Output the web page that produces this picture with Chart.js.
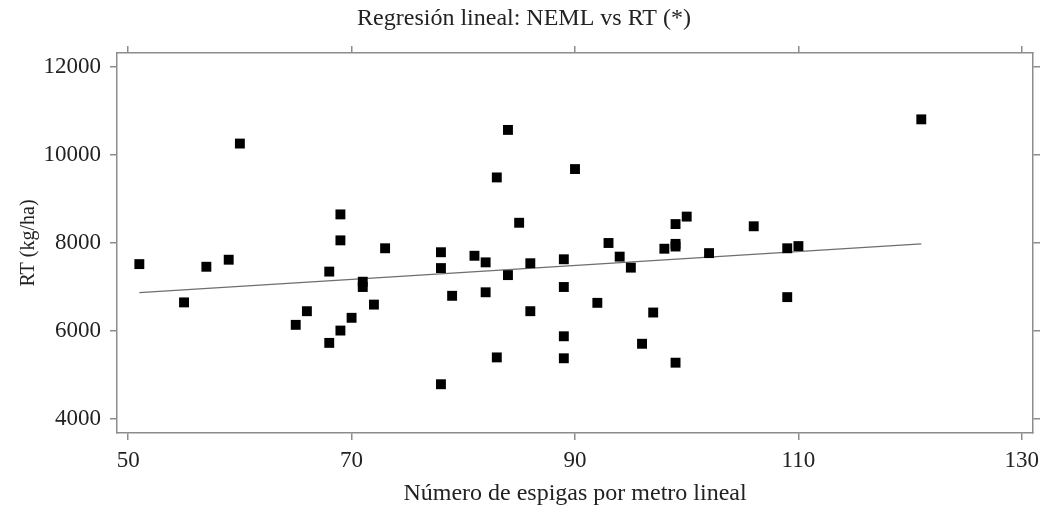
<!DOCTYPE html>
<html>
<head>
<meta charset="utf-8">
<script src="https://cdn.jsdelivr.net/npm/chart.js@4/dist/chart.umd.min.js"></script>
<style>
html,body{margin:0;padding:0;background:#fff;}
#wrap{width:1048px;height:515px;position:relative;}
</style>
</head>
<body>
<div id="wrap"><canvas id="c"></canvas></div>
<script>
// Data
const espigas = [51,55,57,59,60,65,66,68,68,69,69,69,70,71,71,72,73,78,78,78,79,81,82,82,83,83,84,84,85,86,86,89,89,89,89,90,92,93,94,95,96,97,98,99,99,99,99,100,102,106,109,109,110,121];
const rendimiento = [7520,6650,7460,7620,10260,6140,6450,7350,5730,8650,8060,6010,6300,7120,7000,6600,7880,7790,7430,4790,6800,7710,7560,6880,9490,5400,10570,7270,8460,7540,6450,7630,7000,5880,5380,9680,6640,8000,7690,7440,5710,6420,7870,8430,7980,7920,5280,8600,7770,8380,7880,6770,7930,10810];
const lineaX = [51,121];
const lineaY = [6870,7980];
const xTicks = [50,70,90,110,130];
const yTicks = [4000,6000,8000,10000,12000];

const FONT = "'Liberation Serif', 'Times New Roman', serif";
const FRAME = '#8c8c8c';
const TXT = '#222';

const pts = espigas.map((x,i)=>({x:x,y:rendimiento[i]}));
const line = lineaX.map((x,i)=>({x:x,y:lineaY[i]}));

function fixTicks(arr){ return function(scale){ scale.ticks = arr.map(v=>({value:v})); }; }
function gridOpts(){ return {display:true, drawOnChartArea:false, drawTicks:true, tickLength:7, color:FRAME, lineWidth:1.5}; }
function borderOpts(){ return {display:true, color:FRAME, width:1.5}; }
const plain = v => String(v);

new Chart(document.getElementById('c'), {
  type:'scatter',
  data:{datasets:[
    {data:pts, pointStyle:'rect', pointRadius:7, pointHoverRadius:7, backgroundColor:'#000', borderWidth:0, showLine:false, order:1},
    {data:line, showLine:true, pointRadius:0, borderColor:'#6e6e6e', borderWidth:1.2, fill:false, order:2}
  ]},
  options:{
    responsive:true, maintainAspectRatio:false, animation:false,
    layout:{padding:0},
    plugins:{
      legend:{display:false}, tooltip:{enabled:false},
      title:{display:true, text:'Regresión lineal: NEML vs RT (*)', color:TXT,
        font:{family:FONT, size:24, weight:'normal', lineHeight:1.2}, padding:{top:4,bottom:0}}
    },
    scales:{
      x:{type:'linear', position:'bottom', min:49, max:131,
        afterBuildTicks:fixTicks(xTicks), afterFit:s=>{s.height=82;},
        grid:gridOpts(), border:borderOpts(),
        ticks:{color:TXT, font:{family:FONT,size:23}, padding:7, maxRotation:0, callback:plain},
        title:{display:true, text:'Número de espigas por metro lineal', color:TXT,
          font:{family:FONT,size:24,lineHeight:1.2}, padding:{top:0,bottom:7}}},
      x2:{type:'linear', position:'top', min:49, max:131,
        afterBuildTicks:fixTicks(xTicks), afterFit:s=>{s.height=20.2;},
        grid:gridOpts(), border:borderOpts(), ticks:{display:false}},
      y:{type:'linear', position:'left', min:3682, max:12318,
        afterBuildTicks:fixTicks(yTicks), afterFit:s=>{s.width=117;},
        grid:gridOpts(), border:borderOpts(),
        ticks:{color:TXT, font:{family:FONT,size:23}, padding:9, callback:plain},
        title:{display:true, text:'RT (kg/ha)', color:TXT,
          font:{family:FONT,size:20,lineHeight:1.2}, padding:{top:17,bottom:0}}},
      y2:{type:'linear', position:'right', min:3682, max:12318,
        afterBuildTicks:fixTicks(yTicks), afterFit:s=>{s.width=15;},
        grid:gridOpts(), border:borderOpts(), ticks:{display:false}}
    }
  }
});
</script>
</body>
</html>
